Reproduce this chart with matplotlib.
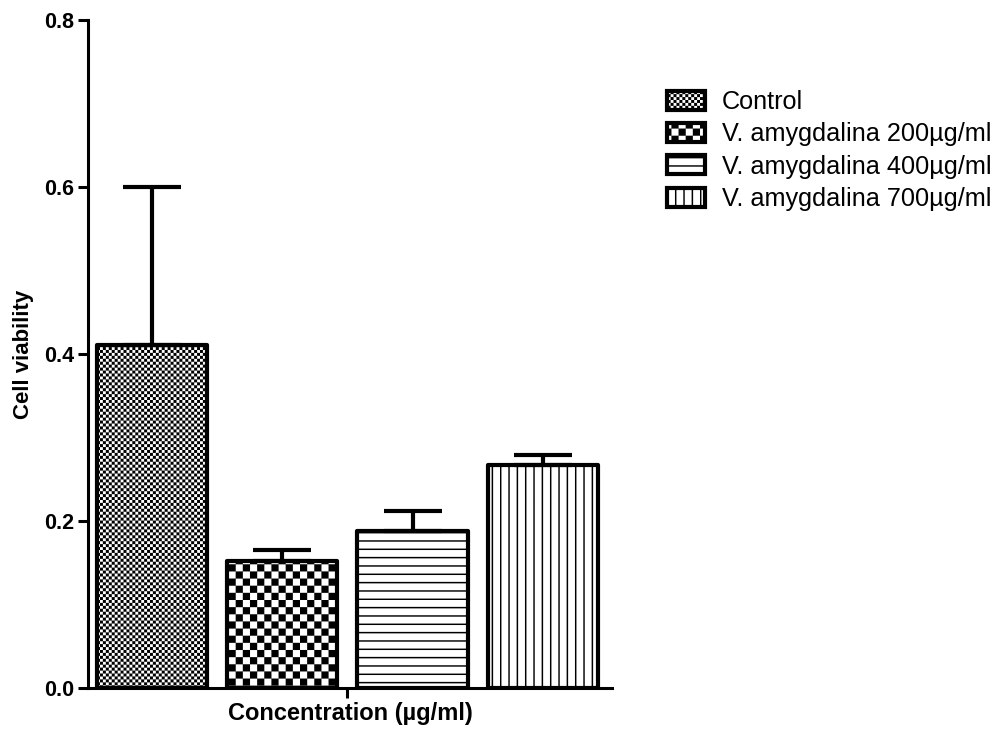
import warnings
import numpy as np
import matplotlib
matplotlib.use("Agg")
import matplotlib.pyplot as plt
from matplotlib import hatch as mhatch
from matplotlib.path import Path

warnings.filterwarnings("ignore")

groups = ["Control", "V. amygdalina 200µg/ml",
          "V. amygdalina 400µg/ml", "V. amygdalina 700µg/ml"]
viability = [0.411, 0.152, 0.188, 0.267]
sem = [0.189, 0.013, 0.024, 0.012]
fills = ["c", "C", "h", "v"]


class TileHatch(mhatch.HatchPatternBase):
    """Filled tiles: c = fine checker, C = coarse checker, h/v = stripes."""

    def __init__(self, hatch, density):
        self.rects = []
        if "c" in hatch:
            self.rects = self._checker(34)
        elif "C" in hatch:
            self.rects = self._checker(14)
        elif "h" in hatch:
            n, t = 12, 0.014
            self.rects = [(0, j / n, 1, j / n + t) for j in range(n)]
        elif "v" in hatch:
            n, t = 12, 0.014
            self.rects = [(i / n, 0, i / n + t, 1) for i in range(n)]
        self.num_vertices = 5 * len(self.rects)

    @staticmethod
    def _checker(n):
        return [(i / n, j / n, (i + 1) / n, (j + 1) / n)
                for i in range(n) for j in range(n) if (i + j) % 2 == 0]

    def set_vertices_and_codes(self, vertices, codes):
        for k, (x0, y0, x1, y1) in enumerate(self.rects):
            vertices[5 * k:5 * k + 5] = [(x0, y0), (x1, y0), (x1, y1),
                                         (x0, y1), (x0, y0)]
            codes[5 * k:5 * k + 5] = [Path.MOVETO, Path.LINETO, Path.LINETO,
                                      Path.LINETO, Path.CLOSEPOLY]


mhatch._hatch_types.append(TileHatch)

plt.rcParams["font.family"] = ["Liberation Sans", "DejaVu Sans"]
plt.rcParams["hatch.linewidth"] = 0.05
plt.rcParams["hatch.color"] = "black"

fig = plt.figure(figsize=(9.98, 7.29), dpi=100)
ax = fig.add_axes([88 / 998, 41 / 729, 524 / 998, 668 / 729])

x = np.arange(len(groups))
bars = ax.bar(x, viability, width=0.845, color="white", edgecolor="black",
              linewidth=3, joinstyle="round", zorder=2)
for b, f, name in zip(bars, fills, groups):
    b.set_hatch(f)
    b.set_label(name)

ax.errorbar(x, viability, yerr=[np.zeros(len(sem)), sem], fmt="none",
            ecolor="black", elinewidth=3, capsize=21, capthick=3, zorder=3)

ax.set_xlim(-0.49, 3.53)
ax.set_ylim(0, 0.8)
ax.set_yticks([0.0, 0.2, 0.4, 0.6, 0.8])
ax.set_yticklabels(["0.0", "0.2", "0.4", "0.6", "0.8"])
ax.set_xticks([1.5])
ax.set_xticklabels([""])

for side in ("top", "right"):
    ax.spines[side].set_visible(False)
for side in ("left", "bottom"):
    ax.spines[side].set_linewidth(2.2)
ax.tick_params(axis="both", direction="out", length=7, width=2.2, pad=3)
for lbl in ax.get_yticklabels():
    lbl.set_fontsize(15.5)
    lbl.set_fontweight("bold")

ax.set_ylabel("Cell viability", fontsize=16, fontweight="bold", labelpad=7)
ax.set_xlabel("Concentration (µg/ml)", fontsize=17, fontweight="bold", labelpad=0)

fig.legend(handles=list(bars), labels=groups, loc="upper left",
           bbox_to_anchor=(667 / 998, 1 - 90 / 729), frameon=False,
           fontsize=18.2, borderpad=0, borderaxespad=0, handlelength=1.5,
           handleheight=0.79, handletextpad=0.67, labelspacing=0.33)

fig.savefig("out.png", dpi=100)
